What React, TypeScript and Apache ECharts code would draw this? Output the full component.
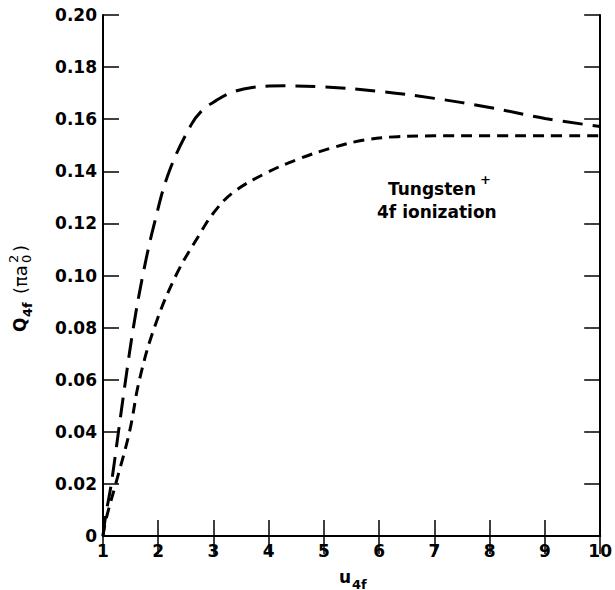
import React, { useEffect, useRef } from "react";
import * as echarts from "echarts";

const uLong = [1.0, 1.05, 1.15, 1.28, 1.41, 1.55, 1.72, 1.93, 2.2, 2.6, 2.8, 3.0, 3.3, 3.7, 4.3, 5.0, 6.0, 7.0, 8.0, 9.0, 10.0];
const qLong = [0, 0.008, 0.02, 0.04, 0.06, 0.08, 0.1, 0.12, 0.14, 0.158, 0.1635, 0.1665, 0.17, 0.1722, 0.1728, 0.1724, 0.1707, 0.168, 0.1645, 0.1603, 0.1572];

const uShort = [1.0, 1.05, 1.23, 1.48, 1.66, 1.93, 2.32, 2.74, 3.0, 3.34, 3.94, 4.54, 5.13, 5.73, 6.33, 7.0, 8.0, 9.0, 10.0];
const qShort = [0, 0.006, 0.02, 0.04, 0.06, 0.08, 0.1, 0.1155, 0.124, 0.1316, 0.1392, 0.1447, 0.1489, 0.152, 0.1533, 0.1536, 0.1536, 0.1536, 0.1536];

const annotationLines = ["Tungsten", "4f ionization"];

const FONT = "DejaVu Sans";

export default function App() {
  const ref = useRef<HTMLDivElement>(null);
  useEffect(() => {
    if (!ref.current) return;
    const chart = echarts.init(ref.current, null, { renderer: "svg" });
    const axisLine = { show: true, lineStyle: { color: "#000", width: 2 } };
    const tick = { show: true, inside: true, length: 16, lineStyle: { color: "#000", width: 1.5 } };
    const labelStyle = { color: "#000", fontFamily: FONT, fontWeight: "bold" as const, fontSize: 17 };
    chart.setOption({
      animation: false,
      backgroundColor: "#fff",
      grid: { left: 103, right: 11, top: 15, bottom: 54 },
      xAxis: [
        {
          type: "value", min: 1, max: 10, interval: 1, position: "bottom",
          axisLine, axisTick: tick, splitLine: { show: false },
          axisLabel: { ...labelStyle, margin: 6, formatter: (v: number) => String(v) },
        },
        {
          type: "value", min: 1, max: 10, interval: 1, position: "top",
          axisLine, axisTick: { ...tick, length: 18 }, splitLine: { show: false },
          axisLabel: { show: false },
        },
      ],
      yAxis: [
        {
          type: "value", min: 0, max: 0.2, interval: 0.02, position: "left",
          axisLine, axisTick: tick, splitLine: { show: false },
          axisLabel: { ...labelStyle, margin: 6, formatter: (v: number) => (v === 0 ? "0" : v.toFixed(2)) },
        },
        {
          type: "value", min: 0, max: 0.2, interval: 0.02, position: "right",
          axisLine, axisTick: tick, splitLine: { show: false },
          axisLabel: { show: false },
        },
      ],
      series: [
        {
          type: "line", xAxisIndex: 0, yAxisIndex: 0,
          data: uLong.map((u, i) => [u, qLong[i]]),
          smooth: 0.4, symbol: "none",
          lineStyle: { color: "#000", width: 3, type: [20, 10], cap: "butt" },
        },
        {
          type: "line", xAxisIndex: 0, yAxisIndex: 0,
          data: uShort.map((u, i) => [u, qShort[i]]),
          smooth: 0.4, symbol: "none",
          lineStyle: { color: "#000", width: 3, type: [11, 7], cap: "butt" },
        },
      ],
      graphic: [
        {
          type: "text", left: 388, top: 180,
          style: { text: annotationLines[0], font: `bold 17px ${FONT}`, fill: "#000" },
        },
        {
          type: "text", left: 480, top: 173,
          style: { text: "+", font: `bold 13px ${FONT}`, fill: "#000" },
        },
        {
          type: "text", left: 377, top: 203,
          style: { text: annotationLines[1], font: `bold 17px ${FONT}`, fill: "#000" },
        },
        {
          type: "text", x: 345, y: 577,
          style: { text: "u", font: `bold 17px ${FONT}`, fill: "#000", align: "center", verticalAlign: "middle" },
        },
        {
          type: "text", x: 352, y: 584,
          style: { text: "4f", font: `bold 13px ${FONT}`, fill: "#000", align: "left", verticalAlign: "middle" },
        },
        {
          type: "group", x: 20, y: 332, rotation: Math.PI / 2,
          children: [
            { type: "text", x: 0, y: 0, style: { text: "Q", font: `bold 17px ${FONT}`, fill: "#000", align: "left", verticalAlign: "middle" } },
            { type: "text", x: 15, y: 7, style: { text: "4f", font: `bold 13px ${FONT}`, fill: "#000", align: "left", verticalAlign: "middle" } },
            { type: "text", x: 38, y: 0, style: { text: "(πa", font: `18px ${FONT}`, fill: "#000", align: "left", verticalAlign: "middle" } },
            { type: "text", x: 69, y: -7, style: { text: "2", font: `13px ${FONT}`, fill: "#000", align: "left", verticalAlign: "middle" } },
            { type: "text", x: 69, y: 6, style: { text: "0", font: `13px ${FONT}`, fill: "#000", align: "left", verticalAlign: "middle" } },
            { type: "text", x: 80, y: 0, style: { text: ")", font: `18px ${FONT}`, fill: "#000", align: "left", verticalAlign: "middle" } },
          ],
        },
      ],
    });
    return () => chart.dispose();
  }, []);
  return <div ref={ref} style={{ width: 615, height: 590, position: "absolute", left: 0, top: 0 }} />;
}
